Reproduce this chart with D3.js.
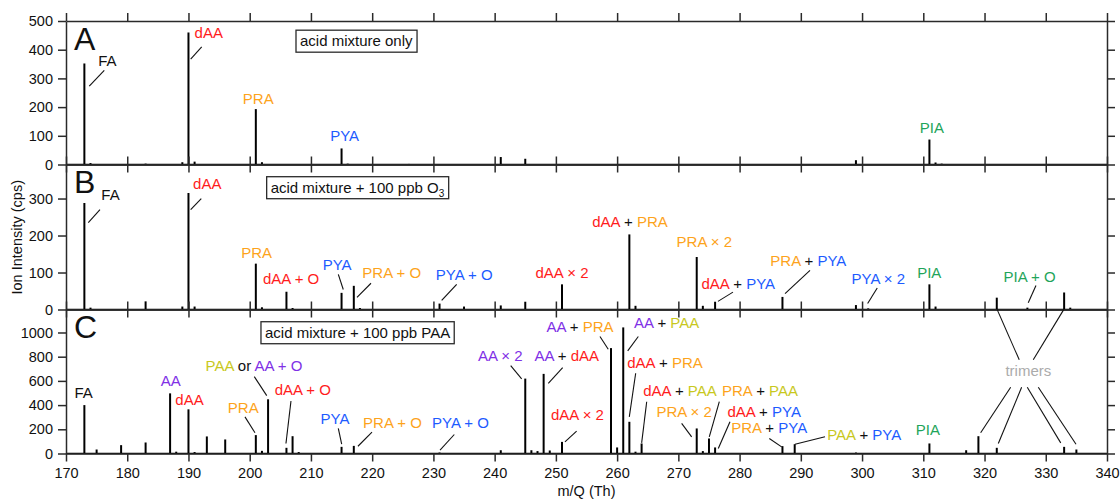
<!DOCTYPE html>
<html>
<head>
<meta charset="utf-8">
<script src="https://cdn.jsdelivr.net/npm/d3@7"></script>
<style>
  body { margin: 0; background: #fff; }
  svg text { font-family: "Liberation Sans", Arial, Helvetica, sans-serif; }
</style>
</head>
<body>
<svg id="chart" width="1120" height="502"></svg>
<script>
// ---- m/Q axis ----
const mzDomain = [170, 340];
const mzTicks = d3.range(170, 341, 10);

// ---- stick spectra: [m/Q, ion intensity (cps)] ----
const spectrumA = [
  [173, 352], [174, 5], [183, 3], [189, 8], [190, 460], [191, 10], [201, 193], [202, 8],
  [215, 56], [216, 3], [226, 2], [241, 26], [245, 20], [299, 15], [311, 87], [312, 7], [313, 3]
];
const spectrumB = [
  [173, 288], [174, 5], [183, 22], [189, 8], [190, 315], [191, 8], [201, 124], [202, 6],
  [206, 48], [207, 4], [215, 45], [217, 64], [218, 4], [231, 16], [235, 8], [241, 11],
  [245, 21], [251, 68], [262, 203], [263, 10], [273, 142], [274, 10], [276, 21], [287, 34],
  [299, 12], [301, 3], [311, 68], [312, 8], [322, 32], [327, 5], [333, 46], [334, 5]
];
const spectrumC = [
  [173, 400], [175, 33], [179, 69], [183, 91], [187, 497], [188, 15], [190, 365], [191, 12],
  [193, 141], [196, 116], [201, 152], [202, 22], [203, 448], [206, 47], [207, 143], [208, 12],
  [215, 55], [217, 63], [231, 8], [241, 27], [245, 619], [246, 27], [247, 20], [248, 658],
  [249, 25], [251, 96], [259, 871], [260, 50], [261, 1042], [262, 262], [263, 15], [264, 83],
  [273, 207], [274, 20], [275, 124], [276, 50], [287, 61], [289, 77], [299, 8], [311, 83],
  [317, 27], [319, 143], [322, 47], [333, 55], [335, 33]
];

// ---- intensity axes ----
const domainA = [0, 500];
const domainB = [0, 392];
const domainC = [0, 1190];
const ticksA = [0, 100, 200, 300, 400, 500];
const ticksB = [0, 100, 200, 300];
const ticksC = [0, 200, 400, 600, 800, 1000];

const panelLetters = ["A", "B", "C"];
const captions = [
  [["acid mixture only"]],
  [["acid mixture + 100 ppb O"], ["3", "sub"]],
  [["acid mixture + 100 ppb PAA"]]
];

// species colours
const colors = {
  k: "#111111",
  dAA: "#ff1c1c",
  PRA: "#fda31b",
  PYA: "#1d5bff",
  PIA: "#1fa55a",
  AA: "#8030e6",
  PAA: "#c8c81e",
  tri: "#ababab"
};

// peak labels: text segments [text, colour key], anchor (m/Q, intensity), optional leader
const labelsA = [
  { t: [["FA", "k"]], x: 176.77, y: 343, lead: [173.8, 273, 176.25, 328] },
  { t: [["dAA", "dAA"]], x: 193.32, y: 441, lead: [190.36, 367, 192.16, 410] },
  { t: [["PRA", "PRA"]], x: 201.4, y: 210 },
  { t: [["PYA", "PYA"]], x: 215.5, y: 81 },
  { t: [["PIA", "PIA"]], x: 311.4, y: 110 }
];
const labelsB = [
  { t: [["FA", "k"]], x: 177.27, y: 295, lead: [173.64, 235, 175.55, 270] },
  { t: [["dAA", "dAA"]], x: 193.07, y: 327, lead: [190.36, 270, 192.09, 300] },
  { t: [["PRA", "PRA"]], x: 201.14, y: 140 },
  { t: [["dAA + O", "dAA"]], x: 206.77, y: 70 },
  { t: [["PYA", "PYA"]], x: 214.28, y: 108, lead: [215.28, 54, 214.47, 95] },
  { t: [["PRA + O", "PRA"]], x: 223.19, y: 84, lead: [217.52, 33, 219.81, 71] },
  { t: [["PYA + O", "PYA"]], x: 235.04, y: 79, lead: [231.35, 25, 233.8, 68] },
  { t: [["dAA × 2", "dAA"]], x: 251.0, y: 84 },
  { t: [["dAA", "dAA"], [" + ", "k"], ["PRA", "PRA"]], x: 262.1, y: 223 },
  { t: [["PRA × 2", "PRA"]], x: 274.24, y: 168 },
  { t: [["dAA", "dAA"], [" + ", "k"], ["PYA", "PYA"]], x: 279.79, y: 55, lead: [276.47, 22, 278.92, 47] },
  { t: [["PRA", "PRA"], [" + ", "k"], ["PYA", "PYA"]], x: 291.23, y: 118, lead: [287.42, 43, 291.5, 106] },
  { t: [["PYA × 2", "PYA"]], x: 302.66, y: 70, lead: [300.91, 16, 302.48, 58] },
  { t: [["PIA", "PIA"]], x: 310.98, y: 86 },
  { t: [["PIA + O", "PIA"]], x: 327.37, y: 73, lead: [327.14, 18, 328.4, 65] }
];
const labelsC = [
  { t: [["FA", "k"]], x: 172.89, y: 456 },
  { t: [["AA", "AA"]], x: 187.11, y: 558 },
  { t: [["dAA", "dAA"]], x: 190.17, y: 400 },
  { t: [["PRA", "PRA"]], x: 198.95, y: 332, lead: [199.23, 303, 200.86, 171] },
  { t: [["PAA", "PAA"], [" or ", "k"], ["AA + O", "AA"]], x: 200.7, y: 685, lead: [200.75, 635, 202.78, 478] },
  { t: [["dAA + O", "dAA"]], x: 208.67, y: 483, lead: [206.74, 434, 205.92, 83] },
  { t: [["PYA", "PYA"]], x: 213.93, y: 240, lead: [214.47, 207, 215.02, 77] },
  { t: [["PRA + O", "PRA"]], x: 223.32, y: 207, lead: [217.68, 60, 219.97, 177] },
  { t: [["PYA + O", "PYA"]], x: 234.42, y: 207, lead: [231.08, 27, 233.41, 157] },
  { t: [["AA × 2", "AA"]], x: 240.92, y: 765, lead: [242.62, 726, 244.41, 616] },
  { t: [["AA", "AA"], [" + ", "k"], ["dAA", "dAA"]], x: 251.77, y: 765, lead: [248.76, 580, 251.11, 710] },
  { t: [["dAA × 2", "dAA"]], x: 253.53, y: 276, lead: [251.48, 96, 253.39, 185] },
  { t: [["AA", "AA"], [" + ", "k"], ["PRA", "PRA"]], x: 253.94, y: 1008, lead: [257.2, 967, 258.55, 862] },
  { t: [["AA", "AA"], [" + ", "k"], ["PAA", "PAA"]], x: 268.09, y: 1041, lead: [263.46, 967, 261.73, 848] },
  { t: [["dAA", "dAA"], [" + ", "k"], ["PRA", "PRA"]], x: 267.82, y: 705, lead: [263.03, 663, 261.99, 303] },
  { t: [["dAA", "dAA"], [" + ", "k"], ["PAA", "PAA"]], x: 270.27, y: 475, lead: [264.83, 428, 264.01, 88] },
  { t: [["PRA", "PRA"], [" + ", "k"], ["PAA", "PAA"]], x: 283.33, y: 475, lead: [276.69, 428, 275.05, 138] },
  { t: [["PRA × 2", "PRA"]], x: 270.95, y: 298, lead: [270.54, 249, 272.17, 138] },
  { t: [["dAA", "dAA"], [" + ", "k"], ["PYA", "PYA"]], x: 284.02, y: 303, lead: [278.43, 262, 276.52, 41] },
  { t: [["PRA", "PRA"], [" + ", "k"], ["PYA", "PYA"]], x: 284.83, y: 166, lead: [284.85, 124, 286.87, 55] },
  { t: [["PAA", "PAA"], [" + ", "k"], ["PYA", "PYA"]], x: 300.35, y: 110, lead: [289.05, 77, 293.95, 138] },
  { t: [["PIA", "PIA"]], x: 310.76, y: 152 },
  { t: [["trimers", "tri"]], x: 327.16, y: 641 }
];
// leaders from the "trimers" note to the trimer peaks (panel C units)
const trimerLeads = [
  [322.03, 1193, 325.67, 774], [332.98, 1193, 327.96, 774],
  [324.27, 547, 319.37, 171], [326.06, 547, 322.25, 83],
  [326.98, 547, 332.44, 88], [328.78, 547, 334.94, 77]
];
// caption boxes: left edge (m/Q) and top edge (intensity)
const captionAnchors = [[207.56, 468], [202.77, 359], [201.84, 1089]];

// ---- layout ----
const svg = d3.select("#chart");
const left = 66, right = 1107;
const edges = [21, 164.5, 309.5, 453.5];
const axisColor = "#2a2a2a";
const tickFont = 14.5, labelFont = 15;

const x = d3.scaleLinear().domain(mzDomain).range([left, right]);

const panels = [
  { data: spectrumA, domain: domainA, ticks: ticksA, labels: labelsA },
  { data: spectrumB, domain: domainB, ticks: ticksB, labels: labelsB },
  { data: spectrumC, domain: domainC, ticks: ticksC, labels: labelsC }
];

function styleAxis(sel) {
  sel.select(".domain").attr("stroke", axisColor).attr("stroke-width", 1.5);
  sel.selectAll(".tick line").attr("stroke", axisColor).attr("stroke-width", 1.5);
  sel.selectAll(".tick text")
    .attr("font-size", tickFont)
    .attr("fill", "#111")
    .attr("font-family", "\"Liberation Sans\", Arial, Helvetica, sans-serif");
}

panels.forEach((p, i) => {
  const top = edges[i], bottom = edges[i + 1];
  const y = d3.scaleLinear().domain(p.domain).range([bottom, top]);
  const g = svg.append("g");

  // spectrum baseline
  g.append("path")
    .datum([[mzDomain[0], 0], [mzDomain[1], 0]])
    .attr("d", d3.line().x(d => x(d[0])).y(d => y(d[1])))
    .attr("stroke", "#000").attr("stroke-width", 1.5).attr("fill", "none");

  // sticks
  g.append("g").selectAll("line").data(p.data).join("line")
    .attr("x1", d => x(d[0])).attr("x2", d => x(d[0]))
    .attr("y1", y(0)).attr("y2", d => y(d[1]))
    .attr("stroke", "#000").attr("stroke-width", 2);

  // frame with outward ticks on all four sides
  g.append("g").attr("transform", `translate(${left},0)`)
    .call(d3.axisLeft(y).tickValues(p.ticks).tickSize(8).tickSizeOuter(0).tickPadding(5).tickFormat(d3.format("d")))
    .call(styleAxis);
  g.append("g").attr("transform", `translate(${right},0)`)
    .call(d3.axisRight(y).tickValues(p.ticks).tickSize(8).tickSizeOuter(0).tickFormat(""))
    .call(styleAxis);
  g.append("g").attr("transform", `translate(0,${top})`)
    .call(d3.axisTop(x).tickValues(mzTicks).tickSize(8).tickSizeOuter(0).tickFormat(""))
    .call(styleAxis);
  g.append("g").attr("transform", `translate(0,${bottom})`)
    .call(d3.axisBottom(x).tickValues(mzTicks).tickSize(8).tickSizeOuter(0).tickPadding(6)
      .tickFormat(i === 2 ? d3.format("d") : ""))
    .call(styleAxis);

  // panel letter
  g.append("text")
    .attr("x", left + 8).attr("y", top + 28.5)
    .attr("font-size", 32).attr("fill", "#111")
    .text(panelLetters[i]);

  // caption box
  const [cmz, cval] = captionAnchors[i];
  const cx = x(cmz), cy = y(cval);
  const boxG = g.append("g");
  const box = boxG.append("rect")
    .attr("x", cx).attr("y", cy).attr("height", 22)
    .attr("fill", "#fff").attr("stroke", axisColor).attr("stroke-width", 1.3);
  const ct = boxG.append("text").attr("x", cx + 4).attr("y", cy + 16)
    .attr("font-size", labelFont).attr("fill", "#111");
  captions[i].forEach(seg => {
    if (seg[1] === "sub") {
      ct.append("tspan").attr("font-size", 10).attr("dy", 4).text(seg[0]);
    } else {
      ct.append("tspan").text(seg[0]);
    }
  });
  box.attr("width", ct.node().getBBox().width + 8);

  // leaders
  g.append("g").selectAll("line").data(p.labels.filter(l => l.lead)).join("line")
    .attr("x1", d => x(d.lead[0])).attr("y1", d => y(d.lead[1]))
    .attr("x2", d => x(d.lead[2])).attr("y2", d => y(d.lead[3]))
    .attr("stroke", "#111").attr("stroke-width", 1.1);

  if (i === 2) {
    g.append("g").selectAll("line").data(trimerLeads).join("line")
      .attr("x1", d => x(d[0])).attr("y1", d => y(d[1]))
      .attr("x2", d => x(d[2])).attr("y2", d => y(d[3]))
      .attr("stroke", "#111").attr("stroke-width", 1.1);
  }

  // labels
  const lt = g.append("g").selectAll("text").data(p.labels).join("text")
    .attr("x", d => x(d.x)).attr("y", d => y(d.y))
    .attr("text-anchor", "middle")
    .attr("font-size", labelFont);
  lt.each(function (d) {
    const t = d3.select(this);
    d.t.forEach(s => t.append("tspan").attr("fill", colors[s[1]]).text(s[0]));
  });
});

// axis titles
svg.append("text")
  .attr("x", (left + right) / 2).attr("y", 496)
  .attr("text-anchor", "middle").attr("font-size", 14.5).attr("fill", "#111")
  .text("m/Q (Th)");
svg.append("text")
  .attr("transform", `translate(22,${(edges[0] + edges[3]) / 2}) rotate(-90)`)
  .attr("text-anchor", "middle").attr("font-size", 14.5).attr("fill", "#111")
  .text("Ion Intensity (cps)");
</script>
</body>
</html>
